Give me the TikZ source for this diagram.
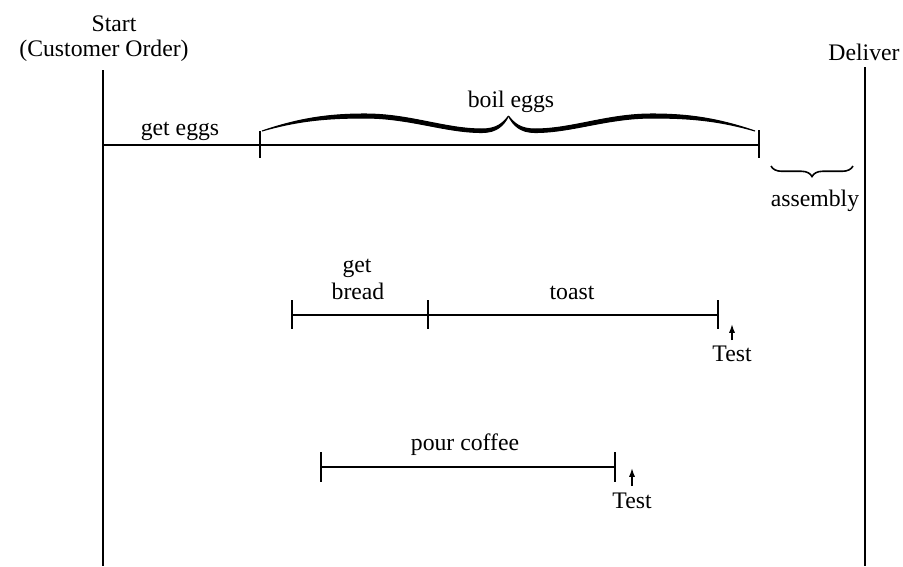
\documentclass[tikz,border=0pt]{standalone}
\usepackage{fontspec}
\setmainfont{Liberation Serif}
\usetikzlibrary{arrows.meta, decorations.pathreplacing}

\begin{document}
\begin{tikzpicture}[x=0.02cm, y=-0.02cm, line width=1.1pt,
        lbl/.style={anchor=base, inner sep=0pt, font=\fontsize{13.5}{15}\selectfont},
        testarrow/.style={line width=0.9pt, -{Latex[length=5pt, width=3.5pt]}}]
    \useasboundingbox (0, 0) rectangle (903, 566);

    \node[lbl] (start) at (114, 31) {Start};
    \node[lbl] (order) at (104, 56) {(Customer Order)};
    \node[lbl] (deliver) at (864, 60) {Deliver};

    \coordinate (l0) at (103, 70);
    \coordinate (l1) at (103, 566);
    \coordinate (r0) at (865, 67);
    \coordinate (r1) at (865, 566);
    \draw (l0) -- (l1);
    \draw (r0) -- (r1);

    % eggs
    \coordinate (e0) at (103, 145);
    \coordinate (e1) at (260, 145);
    \coordinate (e2) at (759, 145);
    \draw (e0) -- (e1) -- (e2);
    \draw (e1) ++(0, -14) -- ++(0, 27);
    \draw (e2) ++(0, -15) -- ++(0, 28);
    \node[lbl] (geteggs) at (180, 135) {get eggs};
    \node[lbl] (boileggs) at (511, 107) {boil eggs};
    \filldraw[line width=0.6pt]
        (262, 131) .. controls (300, 118) and (330, 114) .. (365, 114)
        .. controls (410, 114) and (445, 129) .. (482, 129)
        .. controls (497, 129) and (503, 123) .. (508.5, 116)
        .. controls (504, 125) and (497, 132.5) .. (482, 132.5)
        .. controls (445, 132.5) and (410, 118) .. (365, 118)
        .. controls (330, 118) and (300, 120) .. cycle;
    \filldraw[line width=0.6pt]
        (755, 131) .. controls (717, 118) and (687, 114) .. (652, 114)
        .. controls (607, 114) and (572, 129) .. (535, 129)
        .. controls (520, 129) and (514, 123) .. (508.5, 116)
        .. controls (513, 125) and (520, 132.5) .. (535, 132.5)
        .. controls (572, 132.5) and (607, 118) .. (652, 118)
        .. controls (687, 118) and (717, 120) .. cycle;

    % assembly
    \coordinate (a0) at (771, 166);
    \coordinate (a1) at (853, 166);
    \draw[decorate, decoration={brace, amplitude=6pt}, line width=0.9pt] (a1) -- (a0);
    \node[lbl] (assembly) at (815, 206) {assembly};

    % bread and toast
    \coordinate (t0) at (292, 315);
    \coordinate (t1) at (428, 315);
    \coordinate (t2) at (718, 315);
    \draw (t0) -- (t1) -- (t2);
    \foreach \p in {t0, t1, t2}
        \draw (\p) ++(0, -15) -- ++(0, 29);
    \node[lbl] (get) at (357, 272) {get};
    \node[lbl] (bread) at (358, 299) {bread};
    \node[lbl] (toast) at (572, 299) {toast};
    \node[lbl] (test1) at (732, 361) {Test};
    \coordinate (d1) at (732, 340);
    \coordinate (u1) at (732, 324);
    \draw[testarrow] (d1) -- (u1);

    % coffee
    \coordinate (c0) at (321, 467);
    \coordinate (c1) at (615, 467);
    \draw (c0) -- (c1);
    \foreach \p in {c0, c1}
        \draw (\p) ++(0, -15) -- ++(0, 30);
    \node[lbl] (coffee) at (465, 450) {pour coffee};
    \node[lbl] (test2) at (632, 508) {Test};
    \coordinate (d2) at (632, 486);
    \coordinate (u2) at (632, 468);
    \draw[testarrow] (d2) -- (u2);
\end{tikzpicture}
\end{document}
